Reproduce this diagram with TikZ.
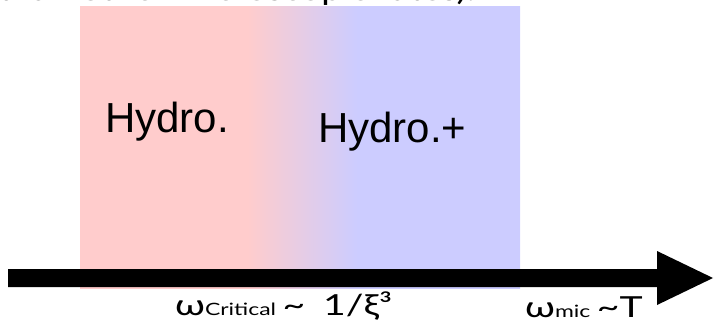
\documentclass[tikz,border=0pt]{standalone}
\usepackage{fontspec}
\setmainfont{Liberation Sans}
\newfontfamily\gill{Lato}
\definecolor{hpink}{RGB}{255,204,204}
\definecolor{hblue}{RGB}{204,204,255}
\pgfdeclarehorizontalshading{hydroshade}{100bp}{color(0bp)=(hpink); color(44bp)=(hpink); color(56.5bp)=(hblue); color(100bp)=(hblue)}
\tikzset{
  bigtext/.style={font=\fontsize{42}{42}\selectfont, inner sep=0pt, anchor=base west},
  labtext/.style={font=\gill\fontsize{29}{29}\selectfont, inner sep=0pt, anchor=base west},
}
\newcommand{\subsz}[1]{{\fontsize{17}{17}\selectfont #1}}
\newcommand{\wide}[1]{\scalebox{1.35}[1]{#1}}
\begin{document}
\begin{tikzpicture}[x=1pt,y=1pt]
\useasboundingbox (0,0) rectangle (714,324);
\clip (0,0) rectangle (714,324);
% top cut-off text
\node[labtext] (top) at (-2,323.5) {\scalebox{1.27}[1]{than other microscopic rates).}};
% background region
\shade[shading=hydroshade] (80,36) rectangle (520,317);
% labels
\node[bigtext] (hydro) at (105,191) {Hydro.};
\node[bigtext] (hydrop) at (318,181) {Hydro.+};
% arrow
\fill[black] (8,37) -- (657,37) -- (657,19) -- (713,46) -- (657,73) -- (657,55) -- (8,55) -- cycle;
% axis labels
\node[labtext] (wc) at (175,9) {\wide{ω\subsz{Critical}\,\textasciitilde}};
\node[labtext] (xi) at (323,9) {\wide{1/ξ³}};
\node[labtext] (wm) at (525,7) {\wide{ω\subsz{mic}\,\textasciitilde T}};
\end{tikzpicture}
\end{document}
